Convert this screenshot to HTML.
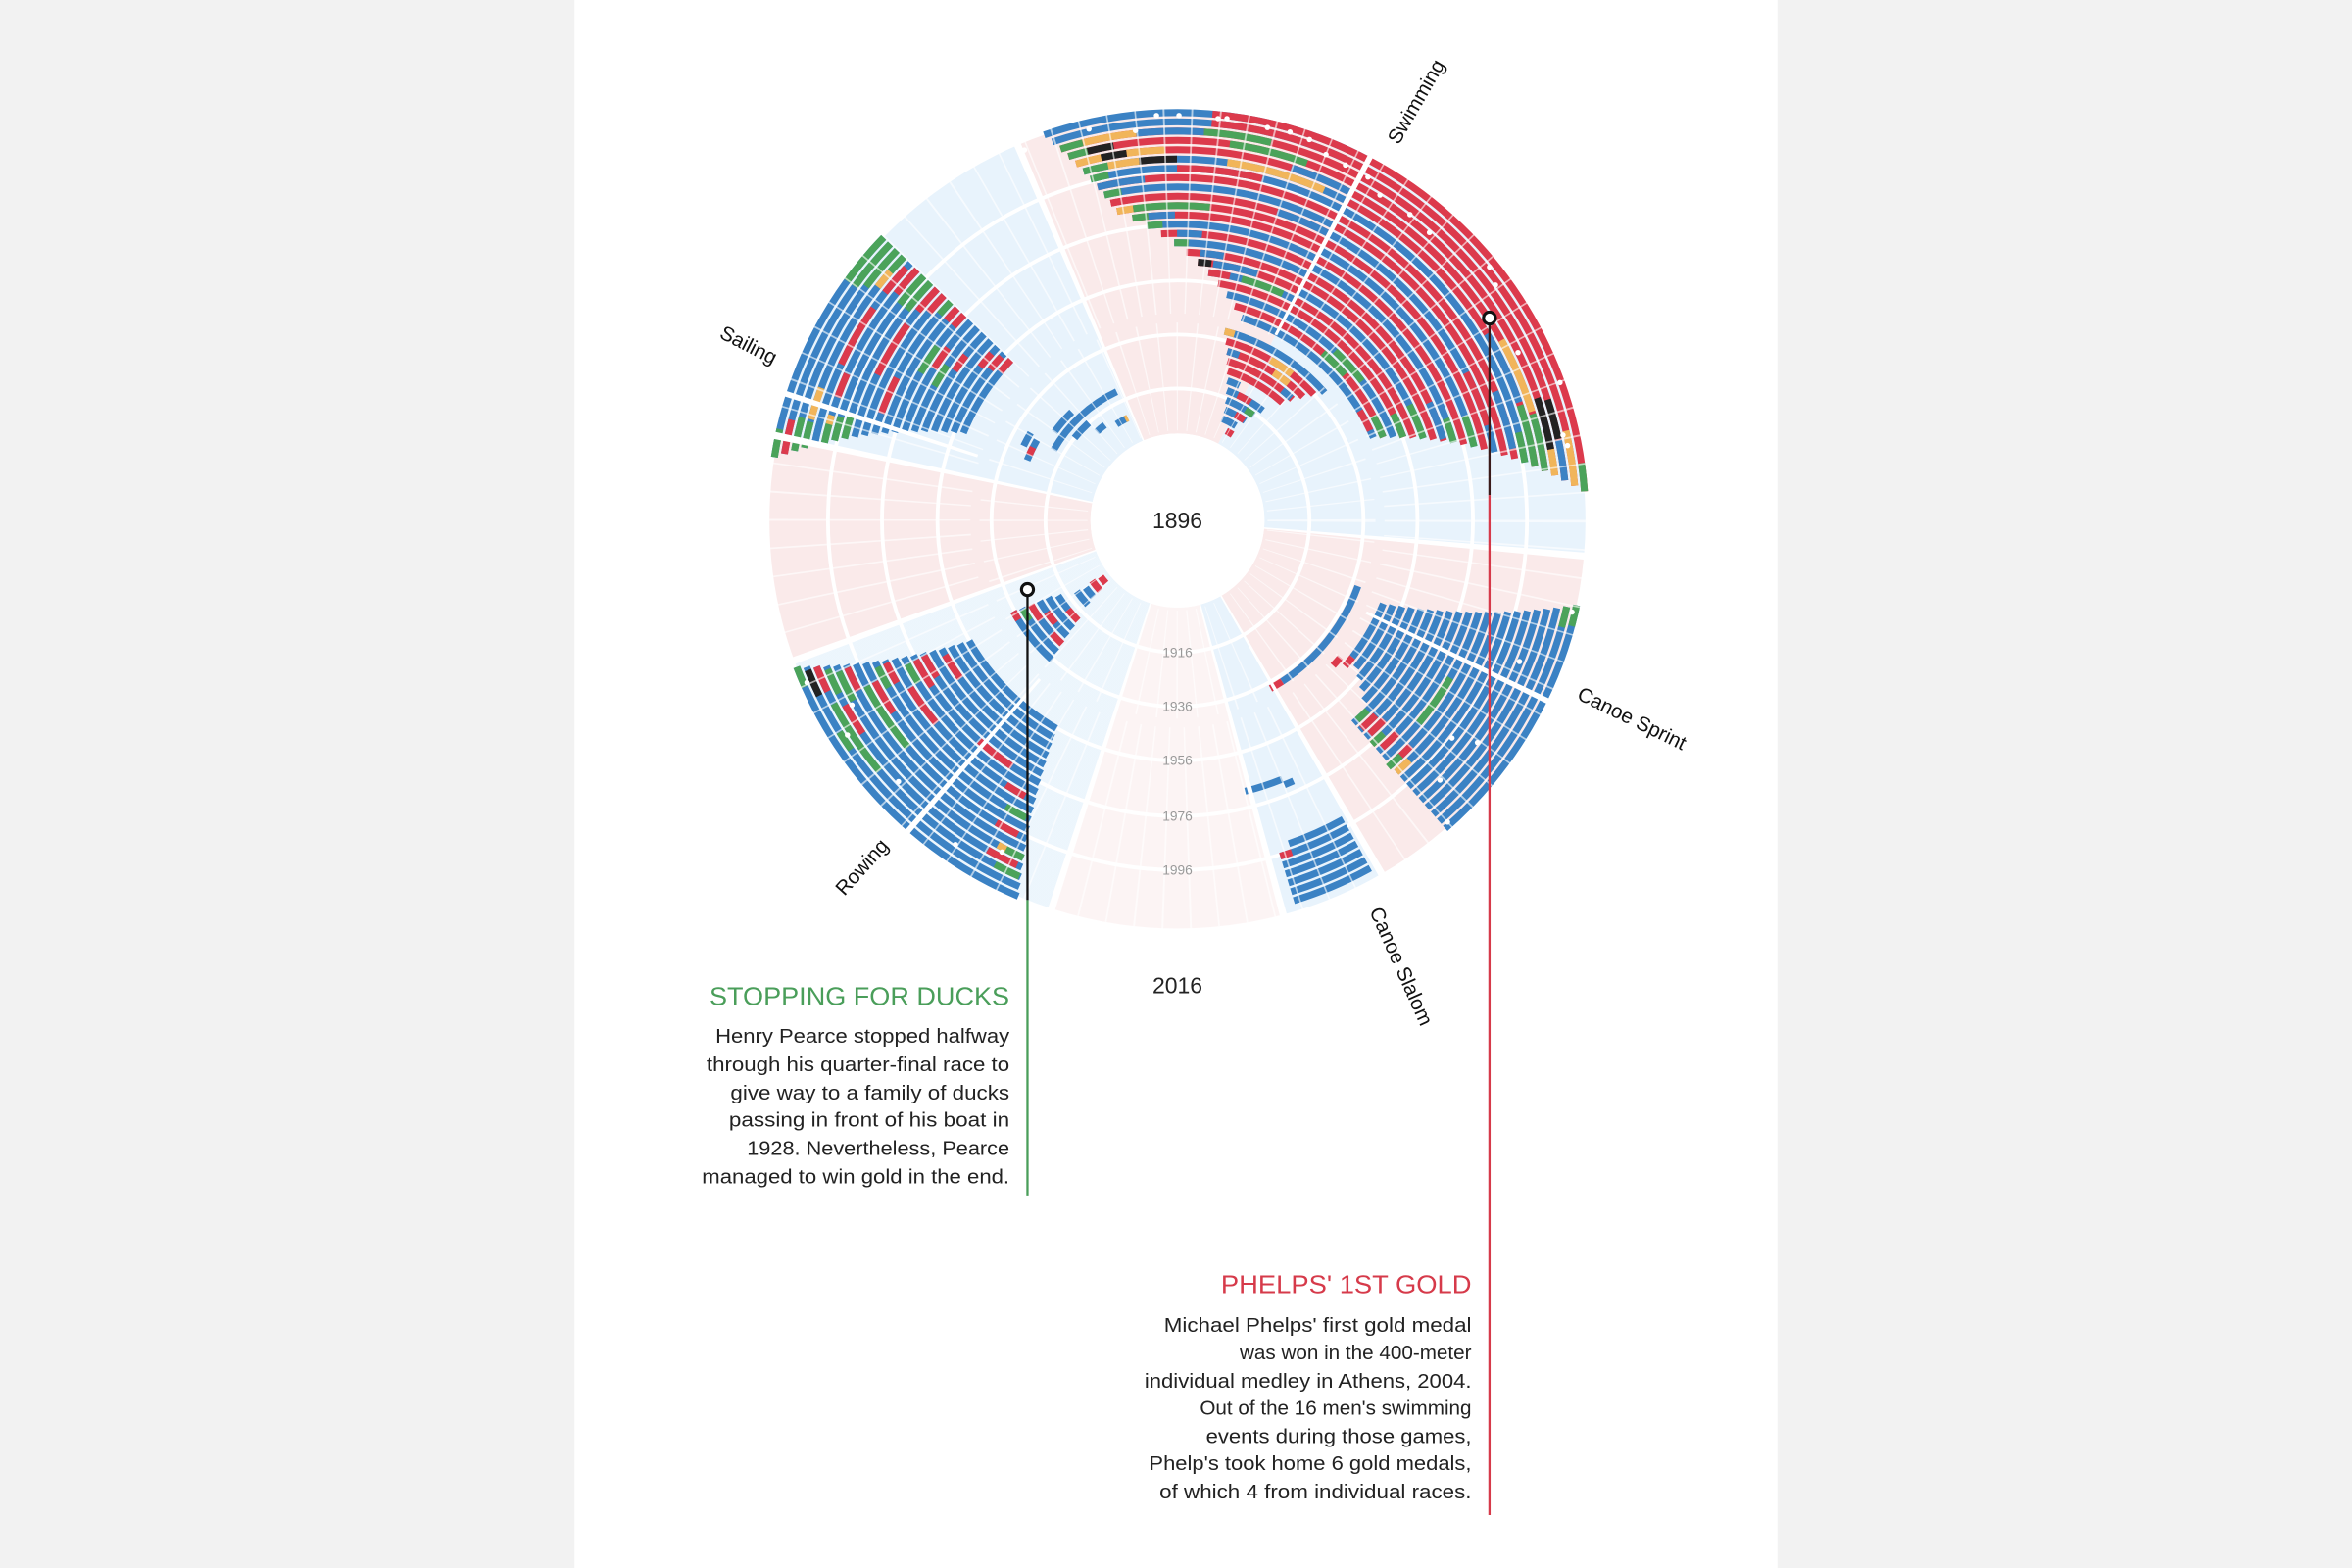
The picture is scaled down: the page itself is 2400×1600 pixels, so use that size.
<!DOCTYPE html>
<html><head><meta charset="utf-8"><style>
html,body{margin:0;padding:0;background:#f2f2f2;}
svg{display:block;}
.bars circle{fill:none;stroke-width:4.6}
.b{stroke:#3b82c4}.r{stroke:#dc3a4c}.g{stroke:#4ba35a}.o{stroke:#f1b55a}.k{stroke:#222}
</style></head><body>
<svg width="2400" height="1600" viewBox="0 0 1568 1045.3" xmlns="http://www.w3.org/2000/svg">
<defs>
<radialGradient id="gp" gradientUnits="userSpaceOnUse" cx="785" cy="347" r="272">
<stop offset="0.4" stop-color="#faeaea" stop-opacity="0"/><stop offset="1" stop-color="#faeaea" stop-opacity="1"/></radialGradient>
<radialGradient id="gb" gradientUnits="userSpaceOnUse" cx="785" cy="347" r="272">
<stop offset="0.4" stop-color="#e8f3fc" stop-opacity="0"/><stop offset="1" stop-color="#e8f3fc" stop-opacity="1"/></radialGradient>
</defs>
<rect x="0" y="0" width="1568" height="1046" fill="#f2f2f2"/>
<rect x="383" y="0" width="802" height="1046" fill="#ffffff"/>
<g transform="translate(785,347)" fill="none" stroke-width="214">
<circle r="165" pathLength="360" stroke="url(#gp)" stroke-dasharray="51 309" stroke-dashoffset="-247"/>
<circle r="165" pathLength="360" stroke="url(#gb)" stroke-dasharray="67 293" stroke-dashoffset="-298"/>
<circle r="165" pathLength="360" stroke="url(#gp)" stroke-dasharray="55 305" stroke-dashoffset="-5"/>
<circle r="165" pathLength="360" stroke="url(#gb)" stroke-dasharray="15 345" stroke-dashoffset="-60"/>
<circle r="165" pathLength="360" stroke="url(#gp)" stroke-dasharray="33 327" stroke-dashoffset="-75" opacity="0.5"/>
<circle r="165" pathLength="360" stroke="url(#gb)" stroke-dasharray="52 308" stroke-dashoffset="-108" opacity="0.8"/>
<circle r="165" pathLength="360" stroke="url(#gp)" stroke-dasharray="32 328" stroke-dashoffset="-160"/>
<circle r="165" pathLength="360" stroke="url(#gb)" stroke-dasharray="55 305" stroke-dashoffset="-192"/>
</g>
<g transform="translate(785,347)" fill="none" stroke="#fff">
<circle r="88" stroke-width="2.5"/><circle r="124" stroke-width="2.5"/><circle r="160" stroke-width="2.5"/><circle r="197" stroke-width="2.5"/><circle r="233" stroke-width="2.5"/>
<circle r="58" fill="#fff" stroke="none"/>
</g>
<g class="bars" transform="translate(785,347)">
<circle r="272" pathLength="360" class="b" stroke-dasharray="47 313" stroke-dashoffset="-251"/>
<circle r="265.8" pathLength="360" class="b" stroke-dasharray="46.2 313.8" stroke-dashoffset="-251.8"/>
<circle r="259.6" pathLength="360" class="r" stroke-dasharray="45.4 314.6" stroke-dashoffset="-252.6"/>
<circle r="253.4" pathLength="360" class="r" stroke-dasharray="44.6 315.4" stroke-dashoffset="-253.4"/>
<circle r="247.2" pathLength="360" class="r" stroke-dasharray="43.8 316.2" stroke-dashoffset="-254.2"/>
<circle r="241" pathLength="360" class="b" stroke-dasharray="43 317" stroke-dashoffset="-255"/>
<circle r="234.8" pathLength="360" class="b" stroke-dasharray="42.2 317.8" stroke-dashoffset="-255.8"/>
<circle r="228.6" pathLength="360" class="r" stroke-dasharray="41.4 318.6" stroke-dashoffset="-256.6"/>
<circle r="222.4" pathLength="360" class="b" stroke-dasharray="40.6 319.4" stroke-dashoffset="-257.4"/>
<circle r="216.2" pathLength="360" class="r" stroke-dasharray="39.8 320.2" stroke-dashoffset="-258.2"/>
<circle r="210" pathLength="360" class="r" stroke-dasharray="39 321" stroke-dashoffset="-259"/>
<circle r="203.8" pathLength="360" class="r" stroke-dasharray="36.4 323.6" stroke-dashoffset="-261.6"/>
<circle r="197.6" pathLength="360" class="b" stroke-dasharray="33.8 326.2" stroke-dashoffset="-264.2"/>
<circle r="191.4" pathLength="360" class="r" stroke-dasharray="31.2 328.8" stroke-dashoffset="-266.8"/>
<circle r="185.2" pathLength="360" class="b" stroke-dasharray="28.6 331.4" stroke-dashoffset="-269.4"/>
<circle r="179" pathLength="360" class="r" stroke-dasharray="26 334" stroke-dashoffset="-272"/>
<circle r="172.8" pathLength="360" class="r" stroke-dasharray="23.4 336.6" stroke-dashoffset="-274.6"/>
<circle r="166.6" pathLength="360" class="b" stroke-dasharray="20.8 339.2" stroke-dashoffset="-277.2"/>
<circle r="160.4" pathLength="360" class="r" stroke-dasharray="18.2 341.8" stroke-dashoffset="-279.8"/>
<circle r="154.2" pathLength="360" class="b" stroke-dasharray="15.6 344.4" stroke-dashoffset="-282.4"/>
<circle r="148" pathLength="360" class="r" stroke-dasharray="13 347" stroke-dashoffset="-285"/>
<circle r="141.8" pathLength="360" class="b" stroke-dasharray="10.4 349.6" stroke-dashoffset="-287.6"/>
<circle r="272" pathLength="360" class="r" stroke-dasharray="58 302" stroke-dashoffset="-298"/>
<circle r="265.8" pathLength="360" class="r" stroke-dasharray="57.1 302.9" stroke-dashoffset="-298"/>
<circle r="259.6" pathLength="360" class="r" stroke-dasharray="56.2 303.8" stroke-dashoffset="-298"/>
<circle r="253.4" pathLength="360" class="r" stroke-dasharray="55.3 304.7" stroke-dashoffset="-298"/>
<circle r="247.2" pathLength="360" class="r" stroke-dasharray="54.4 305.6" stroke-dashoffset="-298"/>
<circle r="241" pathLength="360" class="r" stroke-dasharray="53.5 306.5" stroke-dashoffset="-298"/>
<circle r="234.8" pathLength="360" class="b" stroke-dasharray="52.6 307.4" stroke-dashoffset="-298"/>
<circle r="228.6" pathLength="360" class="r" stroke-dasharray="51.7 308.3" stroke-dashoffset="-298"/>
<circle r="222.4" pathLength="360" class="r" stroke-dasharray="50.8 309.2" stroke-dashoffset="-298"/>
<circle r="216.2" pathLength="360" class="b" stroke-dasharray="49.9 310.1" stroke-dashoffset="-298"/>
<circle r="210" pathLength="360" class="r" stroke-dasharray="49 311" stroke-dashoffset="-298"/>
<circle r="203.8" pathLength="360" class="b" stroke-dasharray="48.1 311.9" stroke-dashoffset="-298"/>
<circle r="197.6" pathLength="360" class="r" stroke-dasharray="47.2 312.8" stroke-dashoffset="-298"/>
<circle r="191.4" pathLength="360" class="b" stroke-dasharray="46.3 313.7" stroke-dashoffset="-298"/>
<circle r="185.2" pathLength="360" class="r" stroke-dasharray="45.4 314.6" stroke-dashoffset="-298"/>
<circle r="179" pathLength="360" class="r" stroke-dasharray="44.5 315.5" stroke-dashoffset="-298"/>
<circle r="172.8" pathLength="360" class="b" stroke-dasharray="43.6 316.4" stroke-dashoffset="-298"/>
<circle r="166.6" pathLength="360" class="r" stroke-dasharray="42.7 317.3" stroke-dashoffset="-298"/>
<circle r="160.4" pathLength="360" class="r" stroke-dasharray="41.8 318.2" stroke-dashoffset="-298"/>
<circle r="154.2" pathLength="360" class="b" stroke-dasharray="40.9 319.1" stroke-dashoffset="-298"/>
<circle r="148" pathLength="360" class="r" stroke-dasharray="40 320" stroke-dashoffset="-298"/>
<circle r="141.8" pathLength="360" class="b" stroke-dasharray="39.1 320.9" stroke-dashoffset="-298"/>
<circle r="272" pathLength="360" class="r" stroke-dasharray="23 337" stroke-dashoffset="-275"/>
<circle r="265.8" pathLength="360" class="r" stroke-dasharray="23 337" stroke-dashoffset="-275"/>
<circle r="259.6" pathLength="360" class="g" stroke-dasharray="3.4 356.6" stroke-dashoffset="-252.6"/>
<circle r="259.6" pathLength="360" class="o" stroke-dasharray="8 352" stroke-dashoffset="-256"/>
<circle r="259.6" pathLength="360" class="b" stroke-dasharray="10 350" stroke-dashoffset="-264"/>
<circle r="259.6" pathLength="360" class="g" stroke-dasharray="10 350" stroke-dashoffset="-274"/>
<circle r="253.4" pathLength="360" class="g" stroke-dasharray="3 357" stroke-dashoffset="-253.4"/>
<circle r="253.4" pathLength="360" class="k" stroke-dasharray="4 356" stroke-dashoffset="-256.4"/>
<circle r="253.4" pathLength="360" class="g" stroke-dasharray="12 348" stroke-dashoffset="-278"/>
<circle r="247.2" pathLength="360" class="o" stroke-dasharray="4 356" stroke-dashoffset="-254.2"/>
<circle r="247.2" pathLength="360" class="k" stroke-dasharray="4 356" stroke-dashoffset="-258.2"/>
<circle r="247.2" pathLength="360" class="o" stroke-dasharray="6 354" stroke-dashoffset="-262.2"/>
<circle r="247.2" pathLength="360" class="b" stroke-dasharray="10 350" stroke-dashoffset="-288"/>
<circle r="241" pathLength="360" class="g" stroke-dasharray="4 356" stroke-dashoffset="-255"/>
<circle r="241" pathLength="360" class="o" stroke-dasharray="5 355" stroke-dashoffset="-259"/>
<circle r="241" pathLength="360" class="k" stroke-dasharray="6 354" stroke-dashoffset="-264"/>
<circle r="241" pathLength="360" class="o" stroke-dasharray="16 344" stroke-dashoffset="-278"/>
<circle r="234.8" pathLength="360" class="g" stroke-dasharray="3 357" stroke-dashoffset="-255.8"/>
<circle r="234.8" pathLength="360" class="r" stroke-dasharray="14 346" stroke-dashoffset="-270"/>
<circle r="228.6" pathLength="360" class="b" stroke-dasharray="8 352" stroke-dashoffset="-256.6"/>
<circle r="222.4" pathLength="360" class="g" stroke-dasharray="3 357" stroke-dashoffset="-257.4"/>
<circle r="216.2" pathLength="360" class="r" stroke-dasharray="3 357" stroke-dashoffset="-258.2"/>
<circle r="216.2" pathLength="360" class="b" stroke-dasharray="10 350" stroke-dashoffset="-288"/>
<circle r="210" pathLength="360" class="o" stroke-dasharray="3 357" stroke-dashoffset="-259"/>
<circle r="210" pathLength="360" class="g" stroke-dasharray="14 346" stroke-dashoffset="-262"/>
<circle r="203.8" pathLength="360" class="g" stroke-dasharray="3 357" stroke-dashoffset="-261.6"/>
<circle r="203.8" pathLength="360" class="b" stroke-dasharray="5 355" stroke-dashoffset="-264.6"/>
<circle r="197.6" pathLength="360" class="g" stroke-dasharray="3 357" stroke-dashoffset="-264.2"/>
<circle r="191.4" pathLength="360" class="b" stroke-dasharray="5 355" stroke-dashoffset="-270"/>
<circle r="185.2" pathLength="360" class="g" stroke-dasharray="3 357" stroke-dashoffset="-269.4"/>
<circle r="179" pathLength="360" class="b" stroke-dasharray="5 355" stroke-dashoffset="-275"/>
<circle r="172.8" pathLength="360" class="k" stroke-dasharray="3 357" stroke-dashoffset="-274.6"/>
<circle r="172.8" pathLength="360" class="b" stroke-dasharray="10 350" stroke-dashoffset="-278"/>
<circle r="166.6" pathLength="360" class="r" stroke-dasharray="5 355" stroke-dashoffset="-277.2"/>
<circle r="166.6" pathLength="360" class="g" stroke-dasharray="10 350" stroke-dashoffset="-285"/>
<circle r="272" pathLength="360" class="g" stroke-dasharray="4 356" stroke-dashoffset="-352"/>
<circle r="265.8" pathLength="360" class="o" stroke-dasharray="8 352" stroke-dashoffset="-347.1"/>
<circle r="259.6" pathLength="360" class="k" stroke-dasharray="6 354" stroke-dashoffset="-342"/>
<circle r="259.6" pathLength="360" class="b" stroke-dasharray="6 354" stroke-dashoffset="-348.2"/>
<circle r="253.4" pathLength="360" class="k" stroke-dasharray="8 352" stroke-dashoffset="-341.3"/>
<circle r="253.4" pathLength="360" class="o" stroke-dasharray="4 356" stroke-dashoffset="-349.3"/>
<circle r="247.2" pathLength="360" class="o" stroke-dasharray="12 348" stroke-dashoffset="-331"/>
<circle r="247.2" pathLength="360" class="g" stroke-dasharray="9 351" stroke-dashoffset="-343.4"/>
<circle r="241" pathLength="360" class="b" stroke-dasharray="12 348" stroke-dashoffset="-329"/>
<circle r="241" pathLength="360" class="g" stroke-dasharray="10 350" stroke-dashoffset="-341.5"/>
<circle r="234.8" pathLength="360" class="g" stroke-dasharray="5 355" stroke-dashoffset="-345.6"/>
<circle r="228.6" pathLength="360" class="b" stroke-dasharray="10 350" stroke-dashoffset="-338"/>
<circle r="216.2" pathLength="360" class="r" stroke-dasharray="10 350" stroke-dashoffset="-333"/>
<circle r="203.8" pathLength="360" class="g" stroke-dasharray="6 354" stroke-dashoffset="-340.1"/>
<circle r="191.4" pathLength="360" class="g" stroke-dasharray="5 355" stroke-dashoffset="-339.3"/>
<circle r="185.2" pathLength="360" class="b" stroke-dasharray="8 352" stroke-dashoffset="-335"/>
<circle r="172.8" pathLength="360" class="g" stroke-dasharray="8 352" stroke-dashoffset="-333.6"/>
<circle r="160.4" pathLength="360" class="g" stroke-dasharray="6 354" stroke-dashoffset="-333.8"/>
<circle r="148" pathLength="360" class="g" stroke-dasharray="6 354" stroke-dashoffset="-332"/>
<circle r="154.2" pathLength="360" class="g" stroke-dasharray="10 350" stroke-dashoffset="-313"/>
<circle r="148" pathLength="360" class="g" stroke-dasharray="8 352" stroke-dashoffset="-311"/>
<circle r="141.8" pathLength="360" class="r" stroke-dasharray="6 354" stroke-dashoffset="-329"/>
<circle r="130" pathLength="360" class="b" stroke-dasharray="35 325" stroke-dashoffset="-284"/>
<circle r="130" pathLength="360" class="o" stroke-dasharray="3 357" stroke-dashoffset="-284"/>
<circle r="123.8" pathLength="360" class="r" stroke-dasharray="32 328" stroke-dashoffset="-285.2"/>
<circle r="123.8" pathLength="360" class="o" stroke-dasharray="8 352" stroke-dashoffset="-300"/>
<circle r="117.6" pathLength="360" class="r" stroke-dasharray="29 331" stroke-dashoffset="-286.4"/>
<circle r="117.6" pathLength="360" class="b" stroke-dasharray="4 356" stroke-dashoffset="-286.4"/>
<circle r="117.6" pathLength="360" class="o" stroke-dasharray="6 354" stroke-dashoffset="-303"/>
<circle r="111.4" pathLength="360" class="r" stroke-dasharray="26 334" stroke-dashoffset="-287.6"/>
<circle r="111.4" pathLength="360" class="b" stroke-dasharray="4 356" stroke-dashoffset="-309"/>
<circle r="105.2" pathLength="360" class="r" stroke-dasharray="23 337" stroke-dashoffset="-288.8"/>
<circle r="99" pathLength="360" class="b" stroke-dasharray="5 355" stroke-dashoffset="-290"/>
<circle r="92.8" pathLength="360" class="b" stroke-dasharray="17 343" stroke-dashoffset="-291.2"/>
<circle r="92.8" pathLength="360" class="r" stroke-dasharray="6 354" stroke-dashoffset="-296"/>
<circle r="86.6" pathLength="360" class="b" stroke-dasharray="14 346" stroke-dashoffset="-292.4"/>
<circle r="86.6" pathLength="360" class="g" stroke-dasharray="4 356" stroke-dashoffset="-302"/>
<circle r="80.4" pathLength="360" class="b" stroke-dasharray="11 349" stroke-dashoffset="-293.6"/>
<circle r="80.4" pathLength="360" class="r" stroke-dasharray="5 355" stroke-dashoffset="-299"/>
<circle r="74.2" pathLength="360" class="b" stroke-dasharray="8 352" stroke-dashoffset="-294"/>
<circle r="68" pathLength="360" class="r" stroke-dasharray="4 356" stroke-dashoffset="-299"/>
<circle r="272" pathLength="360" class="b" stroke-dasharray="35 325" stroke-dashoffset="-189"/>
<circle r="265.8" pathLength="360" class="b" stroke-dasharray="34.3 325.7" stroke-dashoffset="-189.7"/>
<circle r="259.6" pathLength="360" class="b" stroke-dasharray="33.6 326.4" stroke-dashoffset="-190.4"/>
<circle r="253.4" pathLength="360" class="b" stroke-dasharray="32.9 327.1" stroke-dashoffset="-191.1"/>
<circle r="247.2" pathLength="360" class="b" stroke-dasharray="32.2 327.8" stroke-dashoffset="-191.8"/>
<circle r="241" pathLength="360" class="b" stroke-dasharray="31.5 328.5" stroke-dashoffset="-192.5"/>
<circle r="234.8" pathLength="360" class="b" stroke-dasharray="30.8 329.2" stroke-dashoffset="-193.2"/>
<circle r="228.6" pathLength="360" class="b" stroke-dasharray="30.1 329.9" stroke-dashoffset="-193.9"/>
<circle r="222.4" pathLength="360" class="b" stroke-dasharray="29.4 330.6" stroke-dashoffset="-194.6"/>
<circle r="216.2" pathLength="360" class="b" stroke-dasharray="28.7 331.3" stroke-dashoffset="-195.3"/>
<circle r="210" pathLength="360" class="b" stroke-dasharray="28 332" stroke-dashoffset="-196"/>
<circle r="203.8" pathLength="360" class="b" stroke-dasharray="27.3 332.7" stroke-dashoffset="-196.7"/>
<circle r="197.6" pathLength="360" class="b" stroke-dasharray="26.6 333.4" stroke-dashoffset="-197.4"/>
<circle r="191.4" pathLength="360" class="b" stroke-dasharray="25.9 334.1" stroke-dashoffset="-198.1"/>
<circle r="185.2" pathLength="360" class="b" stroke-dasharray="25.2 334.8" stroke-dashoffset="-198.8"/>
<circle r="179" pathLength="360" class="b" stroke-dasharray="24.5 335.5" stroke-dashoffset="-199.5"/>
<circle r="172.8" pathLength="360" class="b" stroke-dasharray="23.8 336.2" stroke-dashoffset="-200.2"/>
<circle r="166.6" pathLength="360" class="b" stroke-dasharray="23.1 336.9" stroke-dashoffset="-200.9"/>
<circle r="160.4" pathLength="360" class="b" stroke-dasharray="22.4 337.6" stroke-dashoffset="-201.6"/>
<circle r="154.2" pathLength="360" class="b" stroke-dasharray="21.7 338.3" stroke-dashoffset="-202.3"/>
<circle r="272" pathLength="360" class="g" stroke-dasharray="8 352" stroke-dashoffset="-216"/>
<circle r="265.8" pathLength="360" class="g" stroke-dasharray="8 352" stroke-dashoffset="-216"/>
<circle r="259.6" pathLength="360" class="g" stroke-dasharray="7 353" stroke-dashoffset="-217"/>
<circle r="253.4" pathLength="360" class="o" stroke-dasharray="3 357" stroke-dashoffset="-218"/>
<circle r="253.4" pathLength="360" class="g" stroke-dasharray="3 357" stroke-dashoffset="-221"/>
<circle r="247.2" pathLength="360" class="r" stroke-dasharray="5 355" stroke-dashoffset="-218"/>
<circle r="241" pathLength="360" class="r" stroke-dasharray="5 355" stroke-dashoffset="-219"/>
<circle r="234.8" pathLength="360" class="g" stroke-dasharray="6 354" stroke-dashoffset="-218"/>
<circle r="228.6" pathLength="360" class="g" stroke-dasharray="6 354" stroke-dashoffset="-218"/>
<circle r="222.4" pathLength="360" class="r" stroke-dasharray="5 355" stroke-dashoffset="-219"/>
<circle r="216.2" pathLength="360" class="r" stroke-dasharray="4 356" stroke-dashoffset="-220"/>
<circle r="210" pathLength="360" class="g" stroke-dasharray="3 357" stroke-dashoffset="-221"/>
<circle r="203.8" pathLength="360" class="r" stroke-dasharray="3 357" stroke-dashoffset="-221"/>
<circle r="197.6" pathLength="360" class="r" stroke-dasharray="3 357" stroke-dashoffset="-221"/>
<circle r="272" pathLength="360" class="g" stroke-dasharray="4 356" stroke-dashoffset="-189"/>
<circle r="265.8" pathLength="360" class="r" stroke-dasharray="5 355" stroke-dashoffset="-189.7"/>
<circle r="259.6" pathLength="360" class="g" stroke-dasharray="5 355" stroke-dashoffset="-190.4"/>
<circle r="253.4" pathLength="360" class="g" stroke-dasharray="4 356" stroke-dashoffset="-191.1"/>
<circle r="253.4" pathLength="360" class="o" stroke-dasharray="5 355" stroke-dashoffset="-195.5"/>
<circle r="247.2" pathLength="360" class="b" stroke-dasharray="4 356" stroke-dashoffset="-191.8"/>
<circle r="241" pathLength="360" class="o" stroke-dasharray="4 356" stroke-dashoffset="-193"/>
<circle r="241" pathLength="360" class="g" stroke-dasharray="3 357" stroke-dashoffset="-192.5"/>
<circle r="234.8" pathLength="360" class="g" stroke-dasharray="4 356" stroke-dashoffset="-193.2"/>
<circle r="228.6" pathLength="360" class="g" stroke-dasharray="4 356" stroke-dashoffset="-193.9"/>
<circle r="241" pathLength="360" class="r" stroke-dasharray="4 356" stroke-dashoffset="-200"/>
<circle r="247.2" pathLength="360" class="r" stroke-dasharray="10 350" stroke-dashoffset="-205"/>
<circle r="222.4" pathLength="360" class="r" stroke-dasharray="10 350" stroke-dashoffset="-206"/>
<circle r="210" pathLength="360" class="r" stroke-dasharray="7 353" stroke-dashoffset="-200"/>
<circle r="197.6" pathLength="360" class="g" stroke-dasharray="6 354" stroke-dashoffset="-210"/>
<circle r="191.4" pathLength="360" class="r" stroke-dasharray="5 355" stroke-dashoffset="-212"/>
<circle r="185.2" pathLength="360" class="g" stroke-dasharray="5 355" stroke-dashoffset="-209"/>
<circle r="179" pathLength="360" class="r" stroke-dasharray="4 356" stroke-dashoffset="-214"/>
<circle r="166.6" pathLength="360" class="r" stroke-dasharray="4 356" stroke-dashoffset="-218"/>
<circle r="160.4" pathLength="360" class="r" stroke-dasharray="4 356" stroke-dashoffset="-219"/>
<circle r="154.2" pathLength="360" class="r" stroke-dasharray="4 356" stroke-dashoffset="-220"/>
<circle r="95" pathLength="360" class="b" stroke-dasharray="35 325" stroke-dashoffset="-210"/>
<circle r="101" pathLength="360" class="b" stroke-dasharray="10 350" stroke-dashoffset="-216"/>
<circle r="88" pathLength="360" class="b" stroke-dasharray="9 351" stroke-dashoffset="-219"/>
<circle r="108" pathLength="360" class="b" stroke-dasharray="8 352" stroke-dashoffset="-202"/>
<circle r="108" pathLength="360" class="r" stroke-dasharray="3 357" stroke-dashoffset="-204"/>
<circle r="114" pathLength="360" class="b" stroke-dasharray="5 355" stroke-dashoffset="-206"/>
<circle r="80" pathLength="360" class="b" stroke-dasharray="5 355" stroke-dashoffset="-228"/>
<circle r="76" pathLength="360" class="b" stroke-dasharray="6 354" stroke-dashoffset="-238"/>
<circle r="76" pathLength="360" class="o" stroke-dasharray="1.5 358.5" stroke-dashoffset="-243"/>
<circle r="272" pathLength="360" class="b" stroke-dasharray="46 314" stroke-dashoffset="-113"/>
<circle r="265.8" pathLength="360" class="b" stroke-dasharray="45.1 314.9" stroke-dashoffset="-113.4"/>
<circle r="259.6" pathLength="360" class="b" stroke-dasharray="44.2 315.8" stroke-dashoffset="-113.8"/>
<circle r="253.4" pathLength="360" class="b" stroke-dasharray="43.3 316.7" stroke-dashoffset="-114.2"/>
<circle r="247.2" pathLength="360" class="b" stroke-dasharray="42.4 317.6" stroke-dashoffset="-114.6"/>
<circle r="241" pathLength="360" class="b" stroke-dasharray="41.5 318.5" stroke-dashoffset="-115"/>
<circle r="234.8" pathLength="360" class="b" stroke-dasharray="40.6 319.4" stroke-dashoffset="-115.4"/>
<circle r="228.6" pathLength="360" class="b" stroke-dasharray="39.7 320.3" stroke-dashoffset="-115.8"/>
<circle r="222.4" pathLength="360" class="b" stroke-dasharray="38.8 321.2" stroke-dashoffset="-116.2"/>
<circle r="216.2" pathLength="360" class="b" stroke-dasharray="37.9 322.1" stroke-dashoffset="-116.6"/>
<circle r="210" pathLength="360" class="b" stroke-dasharray="37 323" stroke-dashoffset="-117"/>
<circle r="203.8" pathLength="360" class="b" stroke-dasharray="36.1 323.9" stroke-dashoffset="-117.4"/>
<circle r="197.6" pathLength="360" class="b" stroke-dasharray="35.2 324.8" stroke-dashoffset="-117.8"/>
<circle r="191.4" pathLength="360" class="b" stroke-dasharray="34.3 325.7" stroke-dashoffset="-118.2"/>
<circle r="185.2" pathLength="360" class="b" stroke-dasharray="33.4 326.6" stroke-dashoffset="-118.6"/>
<circle r="179" pathLength="360" class="b" stroke-dasharray="32.5 327.5" stroke-dashoffset="-119"/>
<circle r="172.8" pathLength="360" class="b" stroke-dasharray="31.6 328.4" stroke-dashoffset="-119.4"/>
<circle r="166.6" pathLength="360" class="b" stroke-dasharray="30.7 329.3" stroke-dashoffset="-119.8"/>
<circle r="160.4" pathLength="360" class="b" stroke-dasharray="29.8 330.2" stroke-dashoffset="-120.2"/>
<circle r="272" pathLength="360" class="g" stroke-dasharray="3 357" stroke-dashoffset="-156"/>
<circle r="265.8" pathLength="360" class="k" stroke-dasharray="4 356" stroke-dashoffset="-154"/>
<circle r="265.8" pathLength="360" class="g" stroke-dasharray="3 357" stroke-dashoffset="-145"/>
<circle r="259.6" pathLength="360" class="r" stroke-dasharray="4 356" stroke-dashoffset="-154"/>
<circle r="259.6" pathLength="360" class="g" stroke-dasharray="12 348" stroke-dashoffset="-140"/>
<circle r="253.4" pathLength="360" class="g" stroke-dasharray="4 356" stroke-dashoffset="-153"/>
<circle r="253.4" pathLength="360" class="r" stroke-dasharray="5 355" stroke-dashoffset="-146"/>
<circle r="247.2" pathLength="360" class="g" stroke-dasharray="5 355" stroke-dashoffset="-151"/>
<circle r="241" pathLength="360" class="r" stroke-dasharray="4 356" stroke-dashoffset="-152"/>
<circle r="234.8" pathLength="360" class="g" stroke-dasharray="12 348" stroke-dashoffset="-140"/>
<circle r="228.6" pathLength="360" class="r" stroke-dasharray="6 354" stroke-dashoffset="-146"/>
<circle r="222.4" pathLength="360" class="g" stroke-dasharray="4 356" stroke-dashoffset="-150"/>
<circle r="216.2" pathLength="360" class="r" stroke-dasharray="4 356" stroke-dashoffset="-150"/>
<circle r="210" pathLength="360" class="r" stroke-dasharray="8 352" stroke-dashoffset="-140"/>
<circle r="203.8" pathLength="360" class="g" stroke-dasharray="4 356" stroke-dashoffset="-148"/>
<circle r="197.6" pathLength="360" class="r" stroke-dasharray="6 354" stroke-dashoffset="-146"/>
<circle r="191.4" pathLength="360" class="r" stroke-dasharray="5 355" stroke-dashoffset="-147"/>
<circle r="179" pathLength="360" class="r" stroke-dasharray="6 354" stroke-dashoffset="-144"/>
<circle r="259.6" pathLength="360" class="g" stroke-dasharray="4 356" stroke-dashoffset="-114"/>
<circle r="253.4" pathLength="360" class="r" stroke-dasharray="5 355" stroke-dashoffset="-115"/>
<circle r="247.2" pathLength="360" class="o" stroke-dasharray="3 357" stroke-dashoffset="-116"/>
<circle r="247.2" pathLength="360" class="g" stroke-dasharray="3 357" stroke-dashoffset="-114.6"/>
<circle r="234.8" pathLength="360" class="r" stroke-dasharray="4 356" stroke-dashoffset="-117"/>
<circle r="222.4" pathLength="360" class="g" stroke-dasharray="4 356" stroke-dashoffset="-117"/>
<circle r="210" pathLength="360" class="r" stroke-dasharray="4 356" stroke-dashoffset="-119"/>
<circle r="197.6" pathLength="360" class="r" stroke-dasharray="8 352" stroke-dashoffset="-124"/>
<circle r="125" pathLength="360" class="b" stroke-dasharray="19 341" stroke-dashoffset="-132"/>
<circle r="125" pathLength="360" class="r" stroke-dasharray="3 357" stroke-dashoffset="-148"/>
<circle r="118.8" pathLength="360" class="b" stroke-dasharray="18 342" stroke-dashoffset="-132.6"/>
<circle r="118.8" pathLength="360" class="g" stroke-dasharray="4 356" stroke-dashoffset="-146"/>
<circle r="112.6" pathLength="360" class="r" stroke-dasharray="17 343" stroke-dashoffset="-133.2"/>
<circle r="112.6" pathLength="360" class="b" stroke-dasharray="6 354" stroke-dashoffset="-138"/>
<circle r="106.4" pathLength="360" class="b" stroke-dasharray="16 344" stroke-dashoffset="-133.8"/>
<circle r="106.4" pathLength="360" class="r" stroke-dasharray="5 355" stroke-dashoffset="-140"/>
<circle r="100.2" pathLength="360" class="b" stroke-dasharray="15 345" stroke-dashoffset="-134.4"/>
<circle r="94" pathLength="360" class="r" stroke-dasharray="6 354" stroke-dashoffset="-135"/>
<circle r="94" pathLength="360" class="b" stroke-dasharray="7 353" stroke-dashoffset="-141"/>
<circle r="82" pathLength="360" class="b" stroke-dasharray="8 352" stroke-dashoffset="-137"/>
<circle r="75.8" pathLength="360" class="b" stroke-dasharray="6 354" stroke-dashoffset="-138"/>
<circle r="69.6" pathLength="360" class="r" stroke-dasharray="7 353" stroke-dashoffset="-138"/>
<circle r="63.4" pathLength="360" class="r" stroke-dasharray="5 355" stroke-dashoffset="-139"/>
<circle r="272" pathLength="360" class="b" stroke-dasharray="37 323" stroke-dashoffset="-12"/>
<circle r="265.8" pathLength="360" class="b" stroke-dasharray="36.5 323.5" stroke-dashoffset="-12.5"/>
<circle r="259.6" pathLength="360" class="b" stroke-dasharray="36 324" stroke-dashoffset="-13"/>
<circle r="253.4" pathLength="360" class="b" stroke-dasharray="35.5 324.5" stroke-dashoffset="-13.5"/>
<circle r="247.2" pathLength="360" class="b" stroke-dasharray="35 325" stroke-dashoffset="-14"/>
<circle r="241" pathLength="360" class="b" stroke-dasharray="34.5 325.5" stroke-dashoffset="-14.5"/>
<circle r="234.8" pathLength="360" class="b" stroke-dasharray="34 326" stroke-dashoffset="-15"/>
<circle r="228.6" pathLength="360" class="b" stroke-dasharray="33.5 326.5" stroke-dashoffset="-15.5"/>
<circle r="222.4" pathLength="360" class="b" stroke-dasharray="33 327" stroke-dashoffset="-16"/>
<circle r="216.2" pathLength="360" class="b" stroke-dasharray="32.5 327.5" stroke-dashoffset="-16.5"/>
<circle r="210" pathLength="360" class="b" stroke-dasharray="32 328" stroke-dashoffset="-17"/>
<circle r="203.8" pathLength="360" class="b" stroke-dasharray="31.5 328.5" stroke-dashoffset="-17.5"/>
<circle r="197.6" pathLength="360" class="b" stroke-dasharray="31 329" stroke-dashoffset="-18"/>
<circle r="191.4" pathLength="360" class="b" stroke-dasharray="30.5 329.5" stroke-dashoffset="-18.5"/>
<circle r="185.2" pathLength="360" class="b" stroke-dasharray="30 330" stroke-dashoffset="-19"/>
<circle r="179" pathLength="360" class="b" stroke-dasharray="29.5 330.5" stroke-dashoffset="-19.5"/>
<circle r="172.8" pathLength="360" class="b" stroke-dasharray="24 336" stroke-dashoffset="-20"/>
<circle r="166.6" pathLength="360" class="b" stroke-dasharray="22 338" stroke-dashoffset="-20.5"/>
<circle r="160.4" pathLength="360" class="b" stroke-dasharray="20 340" stroke-dashoffset="-21"/>
<circle r="154.2" pathLength="360" class="b" stroke-dasharray="18 342" stroke-dashoffset="-21.5"/>
<circle r="148" pathLength="360" class="b" stroke-dasharray="16 344" stroke-dashoffset="-22"/>
<circle r="272" pathLength="360" class="g" stroke-dasharray="3 357" stroke-dashoffset="-12"/>
<circle r="265.8" pathLength="360" class="g" stroke-dasharray="3 357" stroke-dashoffset="-12.5"/>
<circle r="210" pathLength="360" class="g" stroke-dasharray="10 350" stroke-dashoffset="-30"/>
<circle r="216.2" pathLength="360" class="r" stroke-dasharray="3 357" stroke-dashoffset="-44"/>
<circle r="191.4" pathLength="360" class="r" stroke-dasharray="4 356" stroke-dashoffset="-44"/>
<circle r="185.2" pathLength="360" class="r" stroke-dasharray="4 356" stroke-dashoffset="-44.5"/>
<circle r="179" pathLength="360" class="g" stroke-dasharray="3 357" stroke-dashoffset="-45"/>
<circle r="203.8" pathLength="360" class="r" stroke-dasharray="4 356" stroke-dashoffset="-44"/>
<circle r="197.6" pathLength="360" class="o" stroke-dasharray="3 357" stroke-dashoffset="-46"/>
<circle r="197.6" pathLength="360" class="g" stroke-dasharray="3 357" stroke-dashoffset="-46"/>
<circle r="222.4" pathLength="360" class="o" stroke-dasharray="3 357" stroke-dashoffset="-46"/>
<circle r="216.2" pathLength="360" class="g" stroke-dasharray="3 357" stroke-dashoffset="-46.5"/>
<circle r="128" pathLength="360" class="b" stroke-dasharray="37 323" stroke-dashoffset="-20"/>
<circle r="128" pathLength="360" class="r" stroke-dasharray="4 356" stroke-dashoffset="-57"/>
<circle r="148" pathLength="360" class="r" stroke-dasharray="3 357" stroke-dashoffset="-38"/>
<circle r="141.8" pathLength="360" class="r" stroke-dasharray="3 357" stroke-dashoffset="-40"/>
<circle r="265" pathLength="360" class="b" stroke-dasharray="12 348" stroke-dashoffset="-61"/>
<circle r="258.8" pathLength="360" class="b" stroke-dasharray="12 348" stroke-dashoffset="-61"/>
<circle r="252.6" pathLength="360" class="b" stroke-dasharray="12 348" stroke-dashoffset="-61"/>
<circle r="246.4" pathLength="360" class="b" stroke-dasharray="12 348" stroke-dashoffset="-61"/>
<circle r="240.2" pathLength="360" class="b" stroke-dasharray="12 348" stroke-dashoffset="-61"/>
<circle r="234" pathLength="360" class="b" stroke-dasharray="12 348" stroke-dashoffset="-61"/>
<circle r="227.8" pathLength="360" class="b" stroke-dasharray="10 350" stroke-dashoffset="-61"/>
<circle r="234" pathLength="360" class="r" stroke-dasharray="2 358" stroke-dashoffset="-71"/>
<circle r="186" pathLength="360" class="b" stroke-dasharray="8 352" stroke-dashoffset="-68"/>
<circle r="190" pathLength="360" class="b" stroke-dasharray="2 358" stroke-dashoffset="-66"/>
</g>
<g transform="translate(785,347)" fill="none" stroke="#fff">
<circle r="207" stroke-width="138" pathLength="360" stroke-dasharray="0.3 3.7" stroke-opacity="0.6"/>
<circle r="96" stroke-width="72" pathLength="360" stroke-dasharray="0.5 5.5" stroke-opacity="0.6"/>
<circle r="167" stroke-width="220" pathLength="360" stroke-dasharray="0 4.5 1 54 1 14 1 32 1 51 1 31 1 54 1 112.5"/>
<circle r="208" stroke-width="136" pathLength="360" stroke-dasharray="0 25.6 0.8 104.2 0.8 66.2 0.8 99.2 0.8 61.6"/>
</g>
<g fill="#fff">
<circle cx="771" cy="77" r="1.8"/><circle cx="786" cy="77" r="1.8"/><circle cx="812" cy="79" r="1.8"/><circle cx="818" cy="79" r="1.8"/><circle cx="845" cy="85" r="1.8"/><circle cx="860" cy="88" r="1.8"/><circle cx="873" cy="93" r="1.8"/><circle cx="884" cy="103" r="1.8"/><circle cx="897" cy="110" r="1.8"/><circle cx="912" cy="118" r="1.8"/><circle cx="920" cy="130" r="1.8"/><circle cx="940" cy="143" r="1.8"/><circle cx="953" cy="155" r="1.8"/><circle cx="993" cy="178" r="1.8"/><circle cx="997" cy="190" r="1.8"/><circle cx="1012" cy="235" r="1.8"/><circle cx="1040" cy="255" r="1.8"/><circle cx="1042" cy="290" r="1.8"/><circle cx="1045" cy="297" r="1.8"/><circle cx="757" cy="87" r="1.8"/><circle cx="726" cy="86" r="1.8"/><circle cx="683" cy="100" r="1.8"/>
<circle cx="1013" cy="441" r="1.8"/><circle cx="985" cy="495" r="1.8"/><circle cx="968" cy="492" r="1.8"/><circle cx="960" cy="520" r="1.8"/><circle cx="965" cy="548" r="1.8"/><circle cx="1048" cy="408" r="1.8"/>
<circle cx="599" cy="521" r="1.8"/><circle cx="637" cy="563" r="1.8"/><circle cx="668" cy="568" r="1.8"/><circle cx="565" cy="490" r="1.8"/><circle cx="568" cy="470" r="1.8"/><circle cx="538" cy="455" r="1.8"/>
</g>
<g font-family="'Liberation Sans', sans-serif" fill="#222">
<text x="785" y="352" font-size="15" text-anchor="middle">1896</text>
<text x="785" y="662" font-size="15" text-anchor="middle">2016</text>
<g font-size="9" fill="#999" text-anchor="middle">
<text x="785" y="438">1916</text><text x="785" y="474">1936</text><text x="785" y="510">1956</text><text x="785" y="547">1976</text><text x="785" y="583">1996</text>
</g>
<g font-size="13.5" fill="#111">
<text transform="translate(948,70) rotate(-60)" text-anchor="middle">Swimming</text>
<text transform="translate(497,234) rotate(27)" text-anchor="middle">Sailing</text>
<text transform="translate(1086,483) rotate(26)" text-anchor="middle">Canoe Sprint</text>
<text transform="translate(930,646) rotate(66)" text-anchor="middle">Canoe Slalom</text>
<text transform="translate(578,581) rotate(-48)" text-anchor="middle">Rowing</text>
</g>
<text x="673" y="670" font-size="17" fill="#4a9e5a" text-anchor="end" textLength="200" lengthAdjust="spacingAndGlyphs">STOPPING FOR DUCKS</text>
<g font-size="13.5" text-anchor="end">
<text x="673" y="695" textLength="196" lengthAdjust="spacingAndGlyphs">Henry Pearce stopped halfway</text>
<text x="673" y="714" textLength="202" lengthAdjust="spacingAndGlyphs">through his quarter-final race to</text>
<text x="673" y="733" textLength="186" lengthAdjust="spacingAndGlyphs">give way to a family of ducks</text>
<text x="673" y="751" textLength="187" lengthAdjust="spacingAndGlyphs">passing in front of his boat in</text>
<text x="673" y="770" textLength="175" lengthAdjust="spacingAndGlyphs">1928. Nevertheless, Pearce</text>
<text x="673" y="789" textLength="205" lengthAdjust="spacingAndGlyphs">managed to win gold in the end.</text>
</g>
<text x="981" y="862" font-size="17" fill="#d63a4a" text-anchor="end" textLength="167" lengthAdjust="spacingAndGlyphs">PHELPS' 1ST GOLD</text>
<g font-size="13.5" text-anchor="end">
<text x="981" y="888" textLength="205" lengthAdjust="spacingAndGlyphs">Michael Phelps' first gold medal</text>
<text x="981" y="906">was won in the 400-meter</text>
<text x="981" y="925" textLength="218" lengthAdjust="spacingAndGlyphs">individual medley in Athens, 2004.</text>
<text x="981" y="943">Out of the 16 men's swimming</text>
<text x="981" y="962" textLength="177" lengthAdjust="spacingAndGlyphs">events during those games,</text>
<text x="981" y="980" textLength="215" lengthAdjust="spacingAndGlyphs">Phelp's took home 6 gold medals,</text>
<text x="981" y="999" textLength="208" lengthAdjust="spacingAndGlyphs">of which 4 from individual races.</text>
</g>
</g>
<line x1="685" y1="393" x2="685" y2="600" stroke="#111" stroke-width="1.5"/>
<line x1="685" y1="600" x2="685" y2="797" stroke="#4a9e5a" stroke-width="1.5"/>
<circle cx="685" cy="393" r="4" fill="#fff" stroke="#111" stroke-width="2"/>
<line x1="993" y1="212" x2="993" y2="330" stroke="#3a1a1a" stroke-width="1.5"/>
<line x1="993" y1="330" x2="993" y2="1010" stroke="#d63a4a" stroke-width="1.5"/>
<circle cx="993" cy="212" r="4" fill="#fff" stroke="#111" stroke-width="2"/>
</svg>
</body></html>
